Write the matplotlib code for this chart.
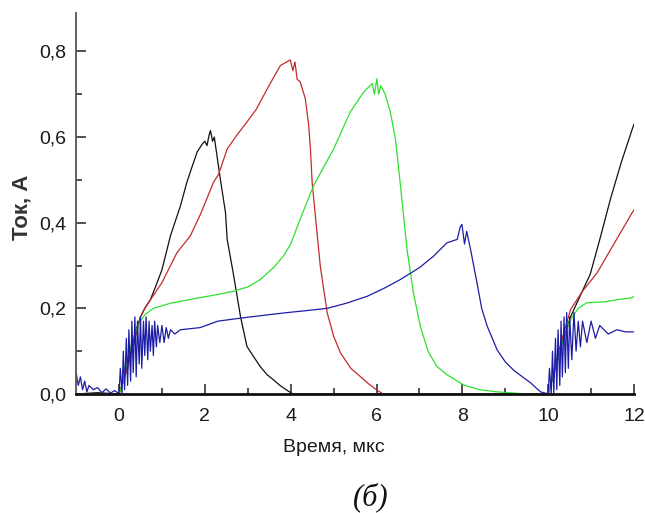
import matplotlib
matplotlib.use("Agg")
import matplotlib.pyplot as plt
from matplotlib.ticker import FixedLocator, FixedFormatter

# ---- data ----
black_x = [-1, -0.5, 0.0, 0.1, 0.2, 0.3, 0.4, 0.5, 0.6, 0.73, 0.85, 1.0, 1.2, 1.43, 1.58, 1.7, 1.82, 1.95,
           2.0, 2.05, 2.1, 2.13, 2.18, 2.22, 2.36, 2.48, 2.52, 2.66, 2.83, 2.98, 3.15, 3.29, 3.45, 3.6, 3.75, 3.91, 4.05,
           10.0, 10.05, 10.3, 10.52, 10.75, 10.98, 11.2, 11.45, 11.7, 11.96, 12.0]
black_y = [0.0, 0.003, 0.0, 0.03, 0.07, 0.11, 0.15, 0.18, 0.20, 0.22, 0.25, 0.29, 0.37, 0.439, 0.494, 0.53, 0.565, 0.585,
           0.59, 0.58, 0.605, 0.615, 0.59, 0.60, 0.502, 0.424, 0.361, 0.283, 0.181, 0.111, 0.085, 0.064, 0.045, 0.033, 0.02, 0.009, 0.0,
           0.0, 0.017, 0.11, 0.18, 0.23, 0.28, 0.36, 0.455, 0.54, 0.619, 0.63]

red_x = [-1, 0.0, 0.1, 0.2, 0.3, 0.4, 0.5, 0.6, 0.8, 1.0, 1.35, 1.66, 1.9, 2.2, 2.32, 2.52, 2.75, 2.98,
         3.2, 3.37, 3.55, 3.76, 3.9, 3.99, 4.05, 4.1, 4.15, 4.22, 4.34, 4.42, 4.46, 4.5, 4.6, 4.69, 4.85, 5.0, 5.16,
         5.4, 5.62, 5.8, 6.01, 6.15, 10.0, 10.1, 10.3, 10.52, 10.8, 11.14, 11.5, 11.96, 12.0]
red_y = [0.0, 0.0, 0.03, 0.06, 0.10, 0.14, 0.18, 0.20, 0.23, 0.26, 0.33, 0.369, 0.42, 0.494, 0.513, 0.572, 0.605, 0.635,
         0.665, 0.697, 0.73, 0.767, 0.775, 0.78, 0.755, 0.775, 0.735, 0.729, 0.69, 0.627, 0.572, 0.494, 0.39, 0.298, 0.19, 0.135, 0.096,
         0.06, 0.041, 0.025, 0.009, 0.0, 0.0, 0.04, 0.12, 0.197, 0.24, 0.283, 0.345, 0.424, 0.43]

green_x = [-1, 0.0, 0.1, 0.2, 0.3, 0.4, 0.5, 0.6, 0.8, 1.2, 1.89, 2.28, 2.67, 3.0, 3.29, 3.6, 3.83, 4.0, 4.22, 4.53,
           5.0, 5.39, 5.7, 5.9, 5.95, 6.01, 6.05, 6.1, 6.2, 6.32, 6.44, 6.55, 6.71, 6.86, 7.02, 7.2, 7.4, 7.64, 8.03,
           8.4, 8.8, 9.5, 10.0, 10.1, 10.3, 10.5, 10.7, 10.9, 11.3, 11.6, 11.96, 12.0]
green_y = [0.0, 0.0, 0.03, 0.08, 0.12, 0.15, 0.17, 0.185, 0.20, 0.212, 0.225, 0.232, 0.24, 0.25, 0.267, 0.295, 0.322, 0.35, 0.408, 0.486,
           0.572, 0.659, 0.705, 0.725, 0.70, 0.736, 0.70, 0.72, 0.70, 0.659, 0.596, 0.494, 0.338, 0.236, 0.158, 0.10, 0.065, 0.045, 0.021,
           0.01, 0.005, 0.0, 0.0, 0.04, 0.11, 0.17, 0.20, 0.213, 0.215, 0.22, 0.225, 0.228]

blue_x = [-1.0, -0.95, -0.9, -0.85, -0.8, -0.75, -0.7, -0.6, -0.5, -0.4, -0.3, -0.2, -0.1, 0.0,
          0.03, 0.07, 0.1, 0.13, 0.17, 0.2, 0.23, 0.27, 0.3, 0.33, 0.37, 0.4, 0.43, 0.47, 0.5, 0.53, 0.57, 0.6,
          0.63, 0.67, 0.7, 0.73, 0.77, 0.8, 0.83, 0.87, 0.9, 0.95, 1.0, 1.05, 1.1, 1.15, 1.2, 1.3,
          1.43, 1.89, 2.3, 2.9, 3.4, 3.91, 4.4, 4.85, 5.3, 5.78, 6.2, 6.55, 7.0, 7.33, 7.64, 7.88, 7.95, 7.99,
          8.05, 8.1, 8.19, 8.34, 8.45, 8.58, 8.81, 9.0, 9.19, 9.4, 9.59, 9.82, 10.0,
          10.03, 10.07, 10.1, 10.13, 10.17, 10.2, 10.23, 10.27, 10.3, 10.33, 10.37, 10.4, 10.43, 10.47, 10.5, 10.55,
          10.6, 10.65, 10.7, 10.75, 10.8, 10.9, 11.0, 11.1, 11.2, 11.4, 11.6, 11.8, 12.0]
blue_y = [0.05, 0.02, 0.04, 0.01, 0.03, 0.005, 0.02, 0.01, 0.015, 0.003, 0.012, 0.002, 0.008, 0.0,
          0.06, 0.0, 0.10, 0.01, 0.13, 0.02, 0.15, 0.03, 0.17, 0.05, 0.18, 0.04, 0.17, 0.07, 0.18, 0.06, 0.17, 0.09,
          0.18, 0.08, 0.17, 0.10, 0.16, 0.09, 0.17, 0.11, 0.16, 0.12, 0.16, 0.12, 0.155, 0.13, 0.15, 0.14,
          0.15, 0.155, 0.17, 0.178, 0.184, 0.19, 0.195, 0.20, 0.212, 0.228, 0.248, 0.267, 0.295, 0.322, 0.353, 0.361, 0.39, 0.396,
          0.35, 0.38, 0.338, 0.26, 0.20, 0.158, 0.103, 0.075, 0.056, 0.04, 0.026, 0.005, 0.0,
          0.06, 0.0, 0.10, 0.0, 0.13, 0.01, 0.15, 0.02, 0.17, 0.04, 0.18, 0.05, 0.19, 0.06, 0.18, 0.08,
          0.19, 0.10, 0.17, 0.11, 0.17, 0.12, 0.17, 0.13, 0.16, 0.14, 0.15, 0.145, 0.145]

x_major = [0, 2, 4, 6, 8, 10, 12]
x_minor = [1, 3, 5, 7, 9, 11]
x_labels = ["0", "2", "4", "6", "8", "10", "12"]
y_major = [0.0, 0.2, 0.4, 0.6, 0.8]
y_minor = [0.1, 0.3, 0.5, 0.7]
y_labels = ["0,0", "0,2", "0,4", "0,6", "0,8"]

# ---- figure ----
fig = plt.figure(figsize=(6.45, 5.13), dpi=100)
ax = fig.add_axes([0.118, 0.232, 0.865, 0.743])

lw = 0.9
ax.plot(black_x, black_y, color="#111111", lw=lw)
ax.plot(red_x, red_y, color="#c42a2a", lw=lw)
ax.plot(green_x, green_y, color="#2fe02f", lw=lw)
ax.plot(blue_x, blue_y, color="#1c1ca6", lw=lw)

ax.set_xlim(-1, 12)
ax.set_ylim(0, 0.89)

for s in ["top", "right"]:
    ax.spines[s].set_visible(False)
ax.spines["left"].set_color("#555555")
ax.spines["left"].set_linewidth(1.3)
ax.spines["bottom"].set_color("#111111")
ax.spines["bottom"].set_linewidth(2.0)

ax.xaxis.set_major_locator(FixedLocator(x_major))
ax.xaxis.set_major_formatter(FixedFormatter(x_labels))
ax.xaxis.set_minor_locator(FixedLocator(x_minor))
ax.yaxis.set_major_locator(FixedLocator(y_major))
ax.yaxis.set_major_formatter(FixedFormatter(y_labels))
ax.yaxis.set_minor_locator(FixedLocator(y_minor))

ax.tick_params(which="both", direction="in", color="#333333", width=1.2)
ax.tick_params(which="major", length=7)
ax.tick_params(which="minor", length=4)
ax.tick_params(axis="x", which="major", pad=10, labelsize=14, labelcolor="#1a1a1a")
ax.tick_params(axis="y", which="major", pad=7, labelsize=14, labelcolor="#1a1a1a")
for lab in ax.get_xticklabels() + ax.get_yticklabels():
    lab.set_family("Liberation Sans")

fig.text(334 / 645, 1 - 448 / 513, "Время, мкс", ha="center", va="center",
         fontsize=14, family="Liberation Sans", color="#1a1a1a")
fig.text(22 / 645, 1 - 207 / 513, "Ток, А", ha="center", va="center", rotation=90,
         fontsize=16, family="Liberation Sans", fontweight="bold", color="#333333")
fig.text(371 / 645, 1 - 497 / 513, "(б)", ha="center", va="center",
         fontsize=22, family="Liberation Serif", style="italic", color="#111111")

fig.savefig("out.png", dpi=100)
